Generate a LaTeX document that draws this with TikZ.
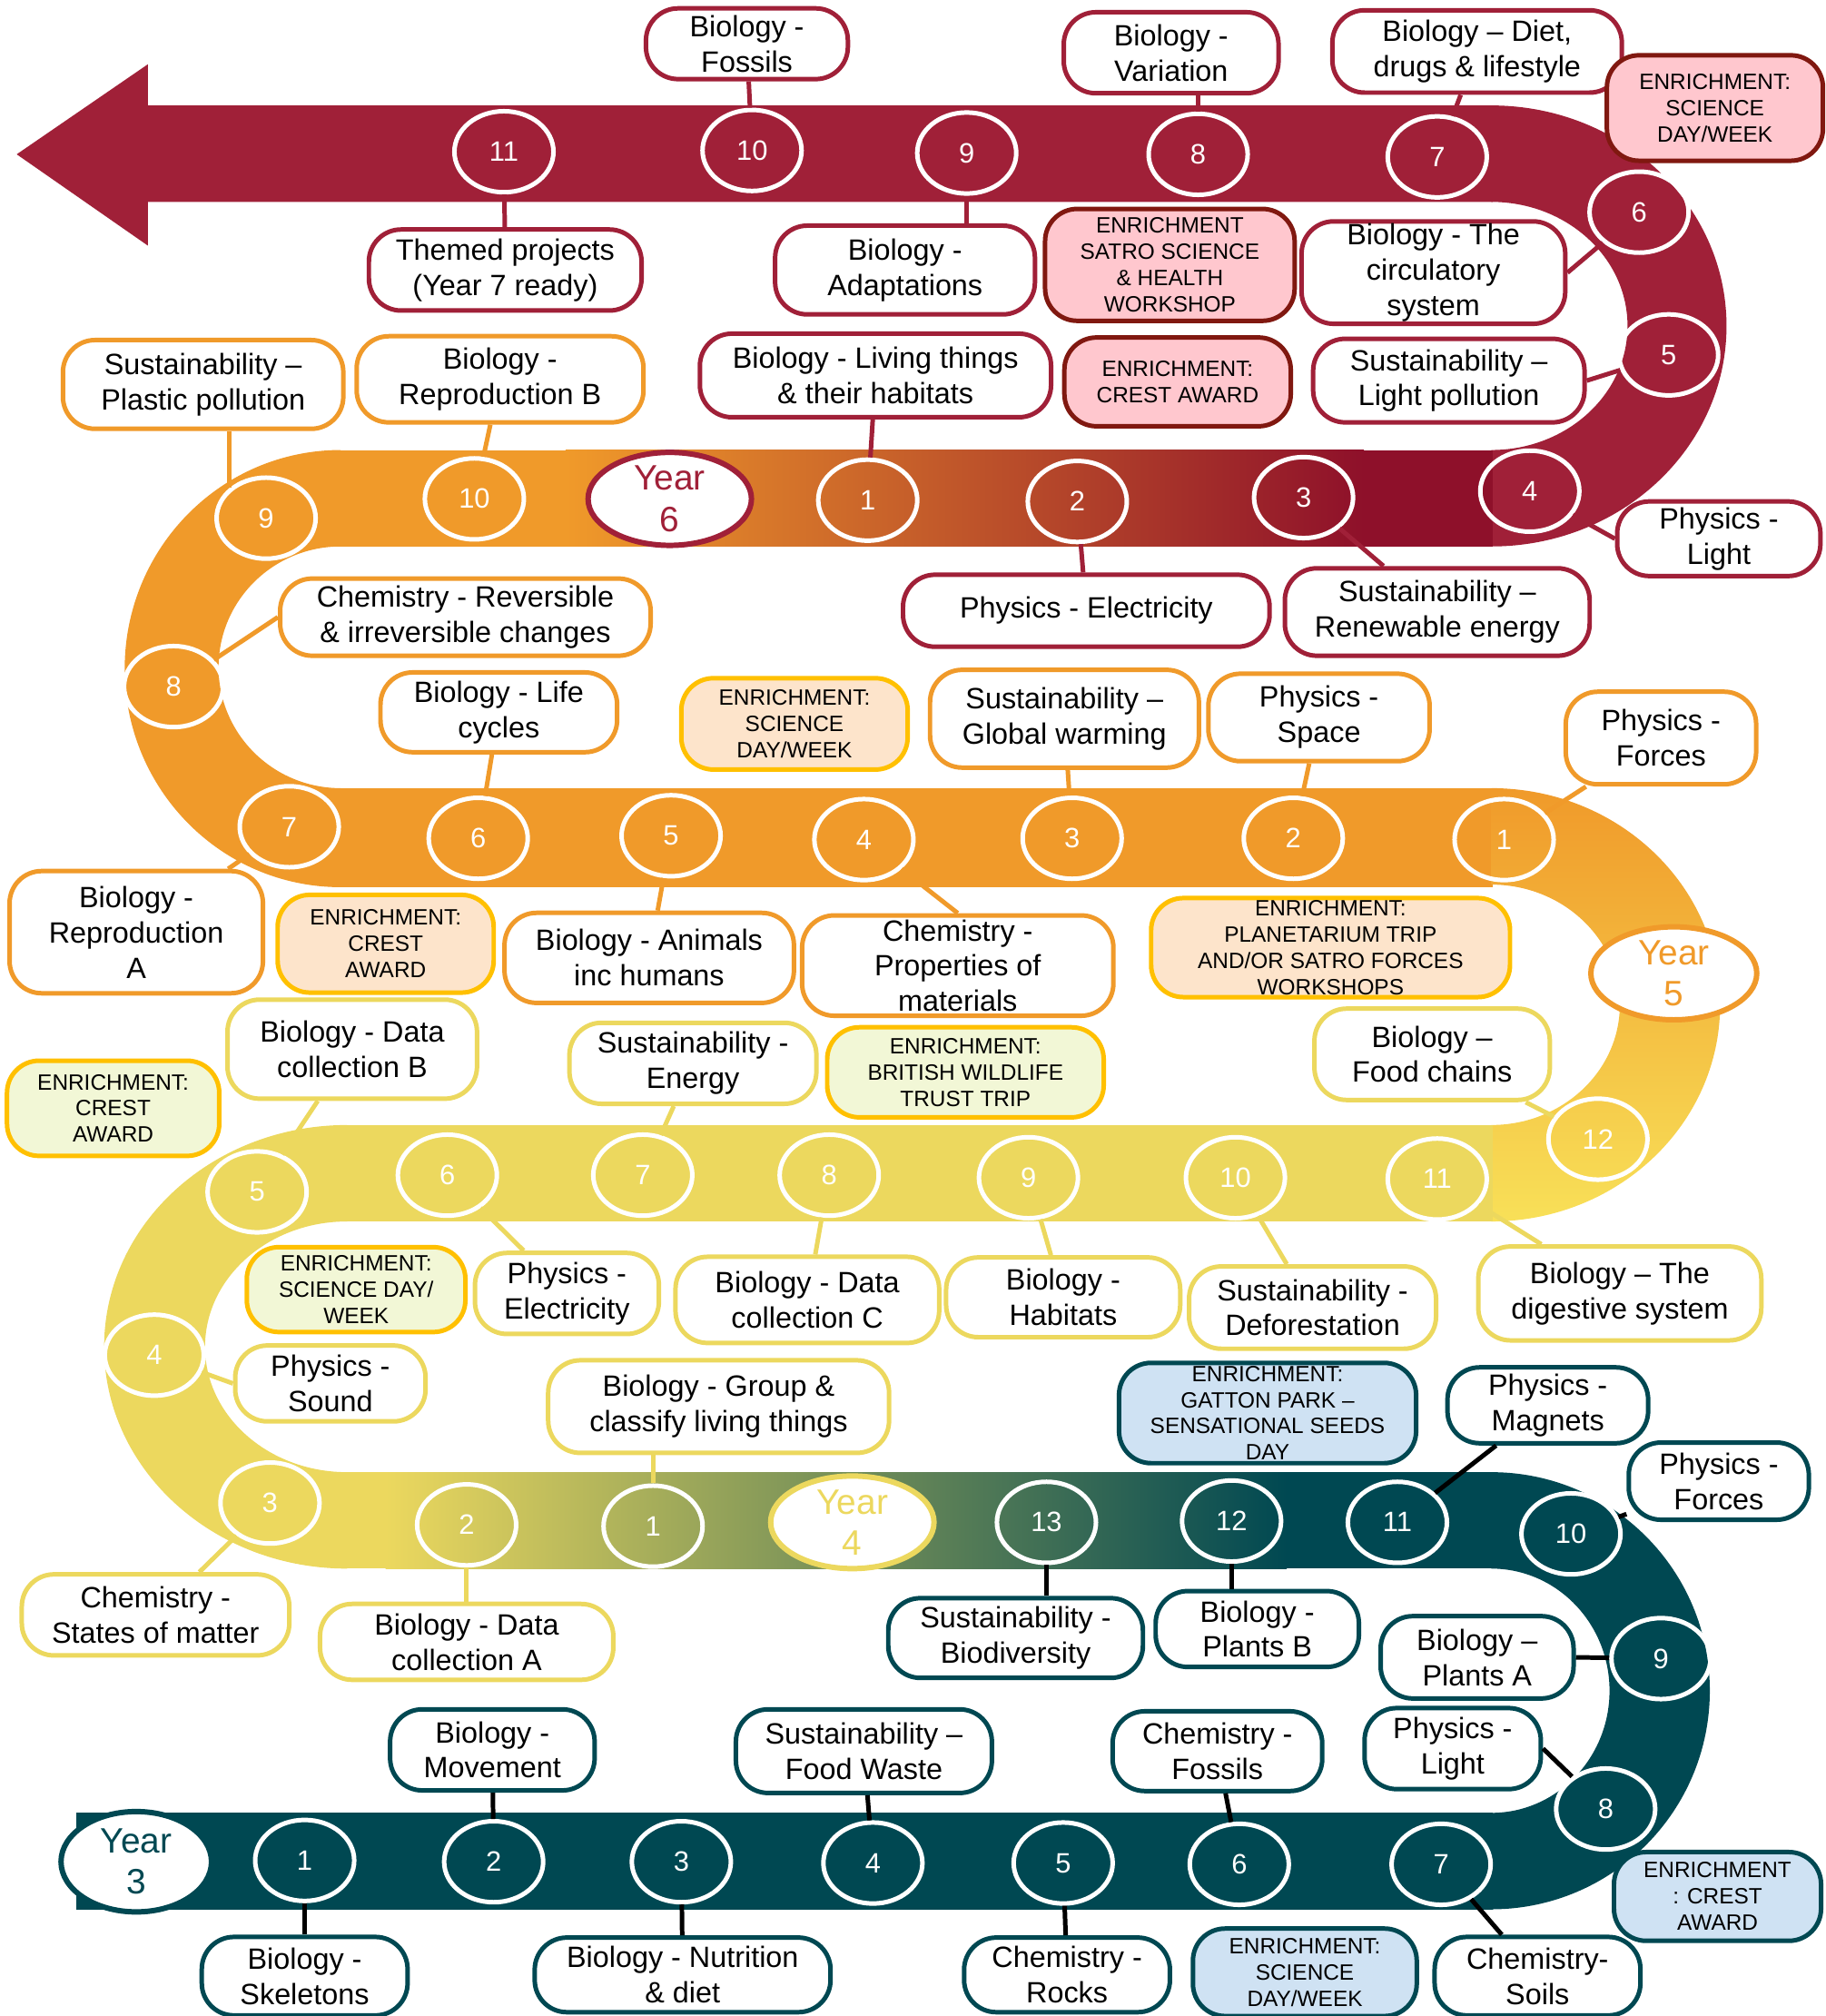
\documentclass[tikz,border=0pt]{standalone}
\usepackage{fontspec}
\setmainfont{Liberation Sans}
\usetikzlibrary{shapes.geometric}

\definecolor{yearsix}{RGB}{160,32,56}
\definecolor{yearsixdark}{RGB}{142,16,42}
\definecolor{yearfive}{RGB}{240,154,42}
\definecolor{yearfour}{RGB}{236,216,94}
\definecolor{yearfourcurve}{RGB}{248,224,88}
\definecolor{yearthree}{RGB}{0,72,82}
\definecolor{pinkfill}{RGB}{255,199,206}
\definecolor{pinkline}{RGB}{128,24,16}
\definecolor{peachfill}{RGB}{253,228,203}
\definecolor{limefill}{RGB}{242,247,214}
\definecolor{bluefill}{RGB}{207,226,243}
\definecolor{goldline}{RGB}{255,192,0}

\tikzset{
  topic/.style={draw=#1, fill=white, line width=1pt, rounded corners=0.25cm, align=center, inner sep=0.5pt, font=\fontsize{6.5}{7.8}\selectfont},
  enrich/.style 2 args={draw=#1, fill=#2, line width=1pt, rounded corners=0.25cm, align=center, inner sep=0.5pt, font=\fontsize{4.9}{5.8}\selectfont},
  stopring/.style={ellipse, draw=white, line width=1pt, minimum width=0.77cm, minimum height=0.63cm, inner sep=0pt, text=white, font=\fontsize{6.2}{7}\selectfont},
  yearlabel/.style={ellipse, draw=#1, fill=white, text=#1, line width=1.2pt, inner sep=0pt, align=center, font=\fontsize{7.8}{9.1}\selectfont},
  joinline/.style={draw=#1, line width=1pt},
  bsize/.style 2 args={minimum width=#1cm, minimum height=#2cm},
}

\begin{document}
\begin{tikzpicture}[x=0.01cm, y=-0.01cm]
\useasboundingbox (0,0) rectangle (1420,1568);

\fill[yearsix] (1161,82) -- (115,82) -- (115,50) -- (13,120) -- (115,191) -- (115,157) -- (1161,157) -- cycle;
\fill[yearsix] (1160,82) arc[start angle=-90, end angle=90, x radius=183, y radius=171.5] -- (1160,350) arc[start angle=90, end angle=-90, x radius=106, y radius=96.5] -- cycle;
\fill[yearfive] (264,350) rectangle (441,425);
\shade[left color=yearfive, right color=yearsixdark] (440,350) rectangle (1061,425);
\fill[yearsixdark] (1060,350) rectangle (1161,425);

\fill[yearfive] (265,350) arc[start angle=-90, end angle=-270, x radius=168, y radius=170] -- (265,613) arc[start angle=90, end angle=270, x radius=95, y radius=94] -- cycle;
\fill[yearfive] (264,613) rectangle (1161,690);
\shade[top color=yearfive, bottom color=yearfourcurve] (1160,613) arc[start angle=-90, end angle=90, x radius=178, y radius=168.5] -- (1160,875) arc[start angle=90, end angle=-90, x radius=100, y radius=93.5] -- cycle;

\fill[yearfour] (269,875) rectangle (1161,950);
\fill[yearfour] (270,875) arc[start angle=-90, end angle=-270, x radius=189, y radius=172.5] -- (270,1145) arc[start angle=90, end angle=270, x radius=110.5, y radius=97.5] -- cycle;
\fill[yearfour] (269,1145) rectangle (301,1220);
\shade[left color=yearfour, right color=yearthree] (300,1145) rectangle (1001,1220);
\fill[yearthree] (1000,1145) rectangle (1161,1220);

\fill[yearthree] (1160,1145) arc[start angle=-90, end angle=90, x radius=170, y radius=170] -- (1160,1410) arc[start angle=90, end angle=-90, x radius=92, y radius=95] -- cycle;
\fill[yearthree] (59,1410) rectangle (1161,1485);

\node[stopring] (yr6n11) at (392,118) {11};
\node[stopring] (yr6n10) at (585,117) {10};
\node[stopring] (yr6n9) at (752,119) {9};
\node[stopring] (yr6n8) at (932,120) {8};
\node[stopring] (yr6n7) at (1118,122) {7};
\node[stopring] (yr6n6) at (1275,165) {6};
\node[stopring] (yr6n5) at (1298,276) {5};
\node[stopring] (yr6n4) at (1190,382) {4};
\node[stopring] (yr6n3) at (1014,387) {3};
\node[stopring] (yr6n2) at (838,390) {2};
\node[stopring] (yr6n1) at (675,389) {1};

\node[stopring] (yr5n10) at (369,388) {10};
\node[stopring] (yr5n9) at (207,403) {9};
\node[stopring] (yr5n8) at (135,534) {8};
\node[stopring] (yr5n7) at (225,643) {7};
\node[stopring] (yr5n6) at (372,652) {6};
\node[stopring] (yr5n5) at (522,650) {5};
\node[stopring] (yr5n4) at (672,653) {4};
\node[stopring] (yr5n3) at (834,652) {3};
\node[stopring] (yr5n2) at (1006,652) {2};
\node[stopring] (yr5n1) at (1170,653) {1};

\node[stopring] (yr4n12) at (1243,886) {12};
\node[stopring] (yr4n11) at (1118,917) {11};
\node[stopring] (yr4n10) at (961,916) {10};
\node[stopring] (yr4n9) at (800,916) {9};
\node[stopring] (yr4n8) at (645,914) {8};
\node[stopring] (yr4n7) at (500,914) {7};
\node[stopring] (yr4n6) at (348,914) {6};
\node[stopring] (yr4n5) at (200,927) {5};
\node[stopring] (yr4n4) at (120,1054) {4};
\node[stopring] (yr4n3) at (210,1169) {3};
\node[stopring] (yr4n2) at (363,1186) {2};
\node[stopring] (yr4n1) at (508,1187) {1};

\node[stopring] (yr3n13) at (814,1184) {13};
\node[stopring] (yr3n12) at (958,1183) {12};
\node[stopring] (yr3n11) at (1087,1184) {11};
\node[stopring] (yr3n10) at (1222,1193) {10};
\node[stopring] (yr3n9) at (1292,1290) {9};
\node[stopring] (yr3n8) at (1249,1407) {8};
\node[stopring] (yr3n7) at (1121,1450) {7};
\node[stopring] (yr3n6) at (964,1450) {6};
\node[stopring] (yr3n5) at (827,1449) {5};
\node[stopring] (yr3n4) at (679,1449) {4};
\node[stopring] (yr3n3) at (530,1448) {3};
\node[stopring] (yr3n2) at (384,1448) {2};
\node[stopring] (yr3n1) at (237,1447) {1};

\node[yearlabel=yearsix, minimum width=1.27cm, minimum height=0.69cm] (year6) at (521,388) {Year\\6};
\node[yearlabel=yearfive, minimum width=1.29cm, minimum height=0.63cm] (year5) at (1302,757) {Year\\5};
\node[yearlabel=yearfour, minimum width=1.27cm, minimum height=0.72cm] (year4) at (663,1184) {Year\\4};
\node[yearlabel=yearthree, minimum width=1.17cm, minimum height=0.78cm] (year3) at (106,1448) {Year\\3};

\node[topic=yearsix, bsize={1.57}{0.55}] (fossils) at (581,34) {Biology -\\Fossils};
\node[topic=yearsix, bsize={1.67}{0.63}] (variation) at (911,41) {Biology -\\Variation};
\node[topic=yearsix, bsize={2.25}{0.64}] (diet) at (1149,40) {Biology – Diet,\\drugs \& lifestyle};
\node[enrich={pinkline}{pinkfill}, bsize={1.68}{0.82}] (sixscience) at (1334,84) {ENRICHMENT:\\SCIENCE\\DAY/WEEK};
\node[topic=yearsix, bsize={2.12}{0.63}] (themed) at (393,210) {Themed projects\\(Year 7 ready)};
\node[topic=yearsix, bsize={2.02}{0.69}] (adaptations) at (704,210) {Biology -\\Adaptations};
\node[enrich={pinkline}{pinkfill}, bsize={1.94}{0.87}] (satro) at (910,206) {ENRICHMENT\\SATRO SCIENCE\\\& HEALTH\\WORKSHOP};
\node[topic=yearsix, bsize={2.05}{0.79}] (circulatory) at (1115,212) {Biology - The\\circulatory\\system};
\node[enrich={pinkline}{pinkfill}, bsize={1.76}{0.69}] (sixcrest) at (916,297) {ENRICHMENT:\\CREST AWARD};
\node[topic=yearsix, bsize={2.11}{0.65}] (lightpoll) at (1127,296) {Sustainability –\\Light pollution};
\node[topic=yearsix, bsize={2.73}{0.65}] (habitats) at (681,292) {Biology - Living things\\\& their habitats};
\node[topic=yearsix, bsize={1.58}{0.58}] (sixlight) at (1337,419) {Physics -\\Light};
\node[topic=yearsix, bsize={2.85}{0.56}] (sixelec) at (845,475) {Physics - Electricity};
\node[topic=yearsix, bsize={2.37}{0.68}] (renewable) at (1118,476) {Sustainability –\\Renewable energy};

\node[topic=yearfive, bsize={2.18}{0.69}] (plastic) at (158,299) {Sustainability –\\Plastic pollution};
\node[topic=yearfive, bsize={2.23}{0.67}] (reprob) at (389,295) {Biology -\\Reproduction B};
\node[topic=yearfive, bsize={2.88}{0.60}] (reversible) at (362,480) {Chemistry - Reversible\\\& irreversible changes};
\node[topic=yearfive, bsize={1.84}{0.62}] (lifecycles) at (388,554) {Biology - Life\\cycles};
\node[enrich={goldline}{peachfill}, bsize={1.76}{0.71}] (fivescience) at (618,563) {ENRICHMENT:\\SCIENCE\\DAY/WEEK};
\node[topic=yearfive, bsize={2.09}{0.76}] (globalw) at (828,559) {Sustainability –\\Global warming};
\node[topic=yearfive, bsize={1.72}{0.68}] (space) at (1026,558) {Physics -\\Space};
\node[topic=yearfive, bsize={1.48}{0.72}] (fiveforces) at (1292,574) {Physics -\\Forces};
\node[topic=yearfive, bsize={1.97}{0.95}] (reproa) at (106,725) {Biology -\\Reproduction\\A};
\node[enrich={goldline}{peachfill}, bsize={1.68}{0.76}] (fivecrest) at (300,734) {ENRICHMENT:\\CREST\\AWARD};
\node[topic=yearfive, bsize={2.25}{0.70}] (animals) at (505,745) {Biology - Animals\\inc humans};
\node[topic=yearfive, bsize={2.42}{0.78}] (materials) at (745,751) {Chemistry -\\Properties of\\materials};
\node[enrich={goldline}{peachfill}, bsize={2.79}{0.77}] (planetarium) at (1035,737) {ENRICHMENT:\\PLANETARIUM TRIP\\AND/OR SATRO FORCES\\WORKSHOPS};

\node[topic=yearfour, bsize={1.83}{0.71}] (foodchains) at (1114,820) {Biology –\\Food chains};
\node[topic=yearfour, bsize={1.94}{0.77}] (datab) at (274,816) {Biology - Data\\collection B};
\node[enrich={goldline}{limefill}, bsize={1.65}{0.74}] (fourcrest) at (88,862) {ENRICHMENT:\\CREST\\AWARD};
\node[topic=yearfour, bsize={1.92}{0.63}] (energy) at (539,827) {Sustainability -\\Energy};
\node[enrich={goldline}{limefill}, bsize={2.15}{0.70}] (wildlife) at (751,834) {ENRICHMENT:\\BRITISH WILDLIFE\\TRUST TRIP};
\node[enrich={goldline}{limefill}, bsize={1.70}{0.66}] (fourscience) at (277,1003) {ENRICHMENT:\\SCIENCE DAY/\\WEEK};
\node[topic=yearfour, bsize={1.43}{0.63}] (fourelec) at (441,1006) {Physics -\\Electricity};
\node[topic=yearfour, bsize={2.05}{0.67}] (datac) at (628,1011) {Biology - Data\\collection C};
\node[topic=yearfour, bsize={1.82}{0.62}] (fourhabitats) at (827,1009) {Biology -\\Habitats};
\node[topic=yearfour, bsize={1.92}{0.64}] (deforest) at (1021,1017) {Sustainability -\\Deforestation};
\node[topic=yearfour, bsize={2.20}{0.73}] (digestive) at (1260,1006) {Biology – The\\digestive system};
\node[topic=yearfour, bsize={1.48}{0.59}] (sound) at (257,1076) {Physics -\\Sound};
\node[topic=yearfour, bsize={2.65}{0.72}] (classify) at (559,1094) {Biology - Group \&\\classify living things};
\node[topic=yearfour, bsize={2.08}{0.63}] (states) at (121,1256) {Chemistry -\\States of matter};
\node[topic=yearfour, bsize={2.28}{0.59}] (dataa) at (363,1277) {Biology - Data\\collection A};

\node[enrich={yearthree}{bluefill}, bsize={2.31}{0.78}] (gatton) at (986,1099) {ENRICHMENT:\\GATTON PARK –\\SENSATIONAL SEEDS\\DAY};
\node[topic=yearthree, bsize={1.56}{0.59}] (magnets) at (1204,1093) {Physics -\\Magnets};
\node[topic=yearthree, bsize={1.40}{0.60}] (threeforces) at (1337,1152) {Physics -\\Forces};
\node[topic=yearthree, bsize={1.98}{0.62}] (biodiv) at (790,1274) {Sustainability -\\Biodiversity};
\node[topic=yearthree, bsize={1.58}{0.59}] (plantsb) at (978,1267) {Biology -\\Plants B};
\node[topic=yearthree, bsize={1.50}{0.64}] (plantsa) at (1149,1289) {Biology –\\Plants A};
\node[topic=yearthree, bsize={1.37}{0.63}] (threelight) at (1130,1360) {Physics -\\Light};
\node[topic=yearthree, bsize={1.63}{0.62}] (fossilsch) at (947,1362) {Chemistry -\\Fossils};
\node[topic=yearthree, bsize={1.99}{0.65}] (foodwaste) at (672,1362) {Sustainability –\\Food Waste};
\node[topic=yearthree, bsize={1.59}{0.63}] (movement) at (383,1361) {Biology -\\Movement};
\node[enrich={yearthree}{bluefill}, bsize={1.61}{0.69}] (threecrest) at (1336,1475) {ENRICHMENT\\: CREST\\AWARD};
\node[topic=yearthree, bsize={1.60}{0.61}] (skeletons) at (237,1537) {Biology -\\Skeletons};
\node[topic=yearthree, bsize={2.30}{0.58}] (nutrition) at (531,1536) {Biology - Nutrition\\\& diet};
\node[topic=yearthree, bsize={1.60}{0.58}] (rocks) at (830,1536) {Chemistry -\\Rocks};
\node[enrich={yearthree}{bluefill}, bsize={1.74}{0.68}] (threescience) at (1015,1534) {ENRICHMENT:\\SCIENCE\\DAY/WEEK};
\node[topic=yearthree, bsize={1.60}{0.61}] (soils) at (1196,1537) {Chemistry-\\Soils};

\draw[joinline=yearsix] (fossils) -- (yr6n10);
\draw[joinline=yearsix] (yr6n8) -- (yr6n8 |- variation.south);
\draw[joinline=yearsix] (diet) -- (yr6n7);
\draw[joinline=yearsix] (themed) -- (yr6n11);
\draw[joinline=yearsix] (yr6n9) -- (yr6n9 |- adaptations.north);
\draw[joinline=yearsix] (circulatory.east) -- (yr6n6);
\draw[joinline=yearsix] (lightpoll.east) -- (yr6n5);
\draw[joinline=yearsix] (habitats) -- (yr6n1);
\draw[joinline=yearsix] (yr6n4) -- (sixlight.west);
\draw[joinline=yearsix] (yr6n2) -- (sixelec);
\draw[joinline=yearsix] (yr6n3) -- (renewable);

\draw[joinline=yearfive] (yr5n9.north west) -- (yr5n9.north west |- plastic.south);
\draw[joinline=yearfive] (reprob) -- (yr5n10);
\draw[joinline=yearfive] (yr5n8) -- (reversible.west);
\draw[joinline=yearfive] (lifecycles) -- (yr5n6);
\draw[joinline=yearfive] (globalw) -- (yr5n3);
\draw[joinline=yearfive] (space) -- (yr5n2);
\draw[joinline=yearfive] (fiveforces) -- (yr5n1);
\draw[joinline=yearfive] (reproa) -- (yr5n7);
\draw[joinline=yearfive] (yr5n5) -- (animals);
\draw[joinline=yearfive] (yr5n4) -- (materials.north);

\draw[joinline=yearfour] (foodchains) -- (yr4n12);
\draw[joinline=yearfour] (datab) -- (yr4n5);
\draw[joinline=yearfour] (energy) -- (yr4n7);
\draw[joinline=yearfour] (yr4n6) -- (fourelec);
\draw[joinline=yearfour] (datac) -- (yr4n8);
\draw[joinline=yearfour] (fourhabitats) -- (yr4n9);
\draw[joinline=yearfour] (deforest) -- (yr4n10);
\draw[joinline=yearfour] (digestive) -- (yr4n11);
\draw[joinline=yearfour] (yr4n4) -- (sound.west);
\draw[joinline=yearfour] (yr4n1) -- (yr4n1 |- classify.south);
\draw[joinline=yearfour] (states) -- (yr4n3);
\draw[joinline=yearfour] (yr4n2) -- (dataa);

\draw[joinline=black] (magnets) -- (yr3n11);
\draw[joinline=black] (threeforces) -- (yr3n10);
\draw[joinline=black] (yr3n13) -- (yr3n13 |- biodiv.north);
\draw[joinline=black] (yr3n12) -- (yr3n12 |- plantsb.north);
\draw[joinline=black] (plantsa.east) -- (yr3n9);
\draw[joinline=black] (threelight.east) -- (yr3n8);
\draw[joinline=black] (fossilsch) -- (yr3n6);
\draw[joinline=black] (foodwaste) -- (yr3n4);
\draw[joinline=black] (movement) -- (yr3n2);
\draw[joinline=black] (yr3n1) -- (skeletons);
\draw[joinline=black] (yr3n3) -- (nutrition);
\draw[joinline=black] (yr3n5) -- (rocks);
\draw[joinline=black] (yr3n7) -- (soils);
\end{tikzpicture}
\end{document}
